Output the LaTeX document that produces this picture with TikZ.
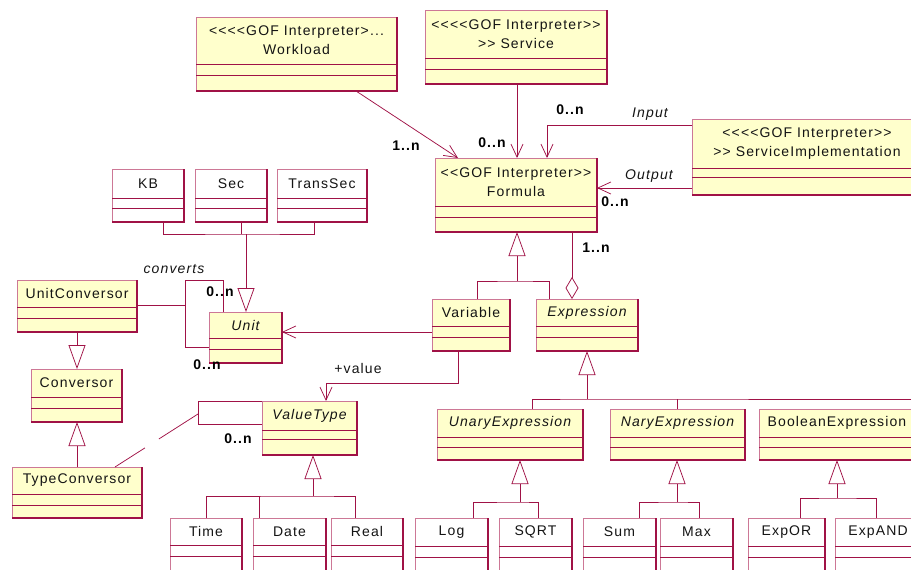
\documentclass[tikz,border=0pt]{standalone}
\usepackage{fontspec}
\setmainfont{Liberation Sans}[LetterSpace=8, Ligatures=TeXOff]
\usetikzlibrary{arrows.meta,calc}

\definecolor{umlred}{RGB}{160,18,70}
\definecolor{umlpink}{RGB}{205,120,150}
\definecolor{classfill}{RGB}{255,255,204}
\definecolor{inktext}{RGB}{20,20,20}

\tikzset{
  conn/.style={draw=umlred, line width=0.75pt},
  openarrow/.style={conn, -{Straight Barb[length=13pt,width=12pt]}},
  genarrow/.style={conn, -{Triangle[length=24pt,width=17pt,fill=white]}},
  aggarrow/.style={conn, -{Diamond[length=22pt,width=13pt,fill=white]}},
  boxlight/.style={draw=umlpink, line width=0.8pt},
  boxdark/.style={draw=umlred, line width=1.2pt},
  divider/.style={draw=umlred, line width=0.8pt},
  classframe/.style={inner sep=0pt, outer sep=0pt, anchor=north west},
  classname/.style={inner sep=0pt, align=center, text=inktext, font=\fontsize{14}{19}\selectfont},
  rolelabel/.style={inner sep=0pt, text=inktext, font=\fontsize{14}{17}\selectfont},
  multlabel/.style={rolelabel, text=black, font=\fontsize{14}{17}\selectfont\bfseries},
}

% name, left, top, right, bottom, first divider, second divider, fill, title
\newcommand\umlclass[9]{%
  \node[classframe, fill=#8, minimum width={(#4)-(#2)}, minimum height={(#5)-(#3)}] (#1) at (#2,#3) {};
  \draw[boxlight] (#1.south west) -- (#1.north west) -- (#1.north east);
  \draw[boxdark] (#1.north east) -- (#1.south east) -- (#1.south west);
  \draw[divider] (#2,#6) -- (#4,#6);
  \draw[divider] (#2,#7) -- (#4,#7);
  \node[classname] (#1-name) at ({((#2)+(#4))/2},{((#3)+(#6))/2}) {#9};%
}

\begin{document}
\begin{tikzpicture}[x=1pt,y=-1pt]
\useasboundingbox (0,0) rectangle (911,570);
\clip (0,0) rectangle (911,570);

% ---- classes ----
\umlclass{Workload}{196}{17}{397}{91}{64}{75}{classfill}{<<<<GOF Interpreter>...\\Workload}
\umlclass{Service}{425}{10}{607}{84}{58}{69}{classfill}{<<<<GOF Interpreter>>\\>> Service}
\umlclass{Formula}{435}{158}{597}{232}{206}{217}{classfill}{<<GOF Interpreter>>\\Formula}
\umlclass{ServiceImpl}{692}{119}{922}{195}{168}{177}{classfill}{<<<<GOF Interpreter>>\\>> ServiceImplementation}

\umlclass{KB}{112}{169}{184}{222}{198}{208}{white}{KB}
\umlclass{Sec}{195}{169}{267}{222}{198}{208}{white}{Sec}
\umlclass{TransSec}{277}{169}{367}{222}{198}{208}{white}{TransSec}
\umlclass{Unit}{209}{312}{282}{363}{338}{349}{classfill}{\itshape Unit}

\umlclass{UnitConversor}{17}{280}{137}{332}{307}{318}{classfill}{UnitConversor}
\umlclass{Conversor}{31}{369}{122}{422}{397}{408}{classfill}{Conversor}
\umlclass{TypeConversor}{12}{467}{142}{518}{494}{505}{classfill}{TypeConversor}

\umlclass{Variable}{432}{299}{510}{351}{326}{337}{classfill}{Variable}
\umlclass{Expression}{536}{299}{638}{351}{326}{337}{classfill}{\itshape Expression}
\umlclass{ValueType}{262}{401}{357}{455}{430}{439}{classfill}{\itshape ValueType}

\umlclass{Time}{170}{518}{242}{578}{545}{556}{white}{Time}
\umlclass{Date}{253}{518}{326}{578}{545}{556}{white}{Date}
\umlclass{Real}{331}{518}{403}{578}{545}{556}{white}{Real}

\umlclass{UnaryExpression}{437}{409}{583}{460}{437}{447}{classfill}{\itshape UnaryExpression}
\umlclass{NaryExpression}{610}{409}{745}{460}{437}{447}{classfill}{\itshape NaryExpression}
\umlclass{BooleanExpression}{759}{409}{915}{460}{437}{447}{classfill}{BooleanExpression}

\umlclass{Log}{415}{518}{488}{578}{546}{557}{white}{Log}
\umlclass{SQRT}{499}{518}{572}{578}{546}{557}{white}{SQRT}
\umlclass{Sum}{583}{518}{656}{578}{546}{557}{white}{Sum}
\umlclass{Max}{660}{518}{733}{578}{546}{557}{white}{Max}
\umlclass{ExpOR}{748}{518}{825}{578}{546}{557}{white}{ExpOR}
\umlclass{ExpAND}{835}{518}{921}{578}{546}{557}{white}{ExpAND}

% ---- associations around Formula ----
\draw[openarrow] ([xshift=160pt]Workload.south west) -- ([xshift=23pt]Formula.north west);
\draw[openarrow] ([xshift=92pt]Service.south west) -- ([xshift=82pt]Formula.north west);
\draw[openarrow] ([yshift=-6pt]ServiceImpl.north west) -| ([xshift=112pt]Formula.north west);
\draw[openarrow] ([yshift=-69pt]ServiceImpl.north west) -- ([yshift=-30pt]Formula.north east);

% Variable and Expression specialise Formula
\coordinate (fj) at (517,281);
\draw[genarrow] (fj) -- (fj |- Formula.south);
\draw[conn] ([xshift=45pt]Variable.north west) |- (fj) -| ([xshift=13pt]Expression.north west);
\draw[aggarrow] ([xshift=137pt]Formula.south west) -- ([xshift=36pt]Expression.north west);

% Variable links
\draw[openarrow] ([yshift=-33pt]Variable.north west) -- ([yshift=-20pt]Unit.north east);
\coordinate (vb) at (458,383);
\draw[openarrow] ([xshift=26pt]Variable.south west) -- (vb) -| ([xshift=64pt]ValueType.north west);

% units
\coordinate (uj) at (246,234);
\draw[genarrow] (uj) -- (uj |- Unit.north);
\draw[conn] ([xshift=51pt]KB.south west) |- (uj) -| ([xshift=37pt]TransSec.south west);
\draw[conn] ([xshift=46pt]Sec.south west) -- ++(0,12);

% converts loop on Unit
\coordinate (cvtop) at (185,280);
\coordinate (cvbot) at (185,347);
\coordinate (cvj) at (185,305);
\draw[conn] ([xshift=14pt]Unit.north west) |- (cvtop) -- (cvbot) -- (cvbot -| Unit.west);
\draw[conn] ([yshift=-25pt]UnitConversor.north east) -- (cvj);

% conversors
\draw[genarrow] ([xshift=60pt]UnitConversor.south west) -- ([xshift=46pt]Conversor.north west);
\draw[genarrow] ([xshift=65pt]TypeConversor.north west) -- ([xshift=46pt]Conversor.south west);

% loop on ValueType
\coordinate (vltop) at (198,401);
\coordinate (vlbot) at (198,424);
\coordinate (vlj) at (198,414);
\draw[conn] (ValueType.north west) -- (vltop) -- (vlbot) -- (vlbot -| ValueType.west);
\draw[conn, dash pattern=on 35.5pt off 16.6pt on 120pt] ([xshift=103pt]TypeConversor.north west) -- (vlj);

% value types
\coordinate (vtj) at (313,496);
\draw[genarrow] (vtj) -- (vtj |- ValueType.south);
\draw[conn] ([xshift=36pt]Time.north west) |- (vtj) -| ([xshift=24pt]Real.north west);
\draw[conn] ([xshift=6pt]Date.north west) -- ++(0,-22);

% expressions
\coordinate (ej) at (587,399);
\draw[genarrow] (ej) -- (ej |- Expression.south);
\draw[conn] ([xshift=95pt]UnaryExpression.north west) |- (ej) -| ([xshift=154pt]BooleanExpression.north west);
\draw[conn] ([xshift=67pt]NaryExpression.north west) -- ++(0,-10);

\coordinate (uej) at (520,502);
\draw[genarrow] (uej) -- (uej |- UnaryExpression.south);
\draw[conn] ([xshift=58pt]Log.north west) |- (uej) -| ([xshift=39pt]SQRT.north west);

\coordinate (nej) at (677,502);
\draw[genarrow] (nej) -- (nej |- NaryExpression.south);
\draw[conn] ([xshift=56pt]Sum.north west) |- (nej) -| ([xshift=39pt]Max.north west);

\coordinate (bej) at (837,498);
\draw[genarrow] (bej) -- (bej |- BooleanExpression.south);
\draw[conn] ([xshift=52pt]ExpOR.north west) |- (bej) -| ([xshift=41pt]ExpAND.north west);

% ---- role and multiplicity labels ----
\node[multlabel] (mWork) at (406,146) {1..n};
\node[multlabel] (mServ) at (492,143) {0..n};
\node[multlabel] (mIn) at (570,110) {0..n};
\node[rolelabel] (lIn) at (650,114) {\itshape Input};
\node[rolelabel] (lOut) at (649,176) {\itshape Output};
\node[multlabel] (mOut) at (615,202) {0..n};
\node[multlabel] (mAgg) at (596,248) {1..n};
\node[rolelabel] (lConv) at (174,269) {\itshape converts};
\node[multlabel] (mUnitA) at (220,292) {0..n};
\node[multlabel] (mUnitB) at (207,365) {0..n};
\node[rolelabel] (lValue) at (358,368) {+value};
\node[multlabel] (mVT) at (238,439) {0..n};

\end{tikzpicture}
\end{document}
